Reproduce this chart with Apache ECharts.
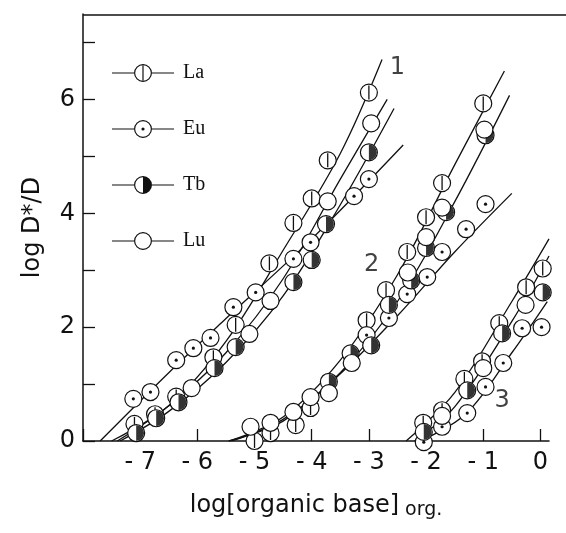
<!DOCTYPE html>
<html>
<head>
<meta charset="utf-8">
<script src="https://cdn.jsdelivr.net/npm/echarts@6/dist/echarts.min.js"></script>
<style>
  html, body { margin: 0; padding: 0; background: #fff; }
  #chart { width: 566px; height: 533px; }
</style>
</head>
<body>
<div id="chart"></div>
<script>
"use strict";

// measured points, [log[base], log D*/D]
var laPoints = [
  [-7.1, 0.3], [-6.74, 0.47], [-6.37, 0.78], [-5.72, 1.47], [-5.33, 2.04], [-4.74, 3.12],
  [-4.32, 3.83], [-4.0, 4.26], [-3.72, 4.93], [-3.0, 6.12],
  [-5.0, 0.0], [-4.72, 0.14], [-4.28, 0.28], [-4.02, 0.58], [-3.04, 2.12], [-2.7, 2.65],
  [-2.33, 3.32], [-2.0, 3.93], [-1.72, 4.53], [-1.0, 5.93],
  [-2.05, 0.32], [-1.72, 0.54], [-1.33, 1.09], [-1.02, 1.4], [-0.72, 2.07], [-0.25, 2.7], [0.04, 3.03]
];
var euPoints = [
  [-7.12, 0.74], [-6.82, 0.86], [-6.37, 1.42], [-6.07, 1.63], [-5.77, 1.81], [-5.37, 2.35],
  [-4.98, 2.61], [-4.32, 3.2], [-4.02, 3.49], [-3.26, 4.3], [-3.0, 4.6],
  [-3.04, 1.86], [-2.65, 2.16], [-2.33, 2.58], [-1.98, 2.88], [-1.72, 3.32], [-1.3, 3.72], [-0.96, 4.16],
  [-2.04, -0.02], [-1.72, 0.25], [-1.28, 0.49], [-0.96, 0.95], [-0.65, 1.37], [-0.32, 1.98], [0.02, 2.0]
];
var tbPoints = [
  [-7.07, 0.14], [-6.72, 0.4], [-6.33, 0.68], [-5.7, 1.28], [-5.33, 1.65], [-4.32, 2.79],
  [-4.0, 3.18], [-3.75, 3.81], [-3.0, 5.07],
  [-3.7, 1.04], [-3.32, 1.54], [-2.96, 1.68], [-2.65, 2.39], [-2.26, 2.82], [-2.0, 3.39],
  [-1.65, 4.02], [-0.96, 5.37],
  [-2.04, 0.16], [-1.28, 0.89], [-0.67, 1.89], [0.04, 2.61]
];
var luPoints = [
  [-6.1, 0.93], [-5.09, 1.88], [-4.72, 2.46], [-3.72, 4.21], [-2.96, 5.58],
  [-5.07, 0.25], [-4.72, 0.32], [-4.32, 0.51], [-4.02, 0.77], [-3.7, 0.84], [-3.3, 1.37],
  [-2.32, 2.96], [-2.0, 3.58], [-1.72, 4.1], [-0.98, 5.47],
  [-1.72, 0.44], [-1.0, 1.28], [-0.26, 2.39]
];

// drawn curves
var curveLa1 = [[-7.5, 0], [-6.5, 0.62], [-5.5, 1.75], [-4.5, 3.35], [-3.5, 5.05], [-2.77, 6.7]];
var curveLu1 = [[-7.4, 0], [-6.5, 0.62], [-5.5, 1.55], [-4.5, 2.85], [-3.5, 4.6], [-2.68, 6.0]];
var curveTb1 = [[-7.35, 0], [-6.5, 0.52], [-5.5, 1.38], [-4.5, 2.55], [-3.5, 4.15], [-2.56, 5.84]];
var curveEu1 = [[-7.7, 0], [-6.5, 1.2], [-5.5, 2.15], [-4.0, 3.55], [-2.4, 5.2]];
var curveLa2 = [[-5.45, 0], [-4.5, 0.42], [-3.5, 1.42], [-2.5, 2.92], [-1.5, 4.85], [-0.63, 6.5]];
var curveTb2 = [[-5.4, 0], [-4.5, 0.38], [-3.5, 1.2], [-2.5, 2.45], [-1.5, 4.2], [-0.54, 6.07]];
var curveEu2 = [[-5.45, 0], [-4.5, 0.35], [-3.5, 1.18], [-2.5, 2.2], [-1.5, 3.32], [-0.5, 4.35]];
var curveLa3 = [[-2.35, 0], [-1.5, 0.85], [-0.5, 2.45], [0.15, 3.55]];
var curveTb3 = [[-2.2, 0], [-1.5, 0.6], [-0.5, 2.1], [0.15, 3.25]];
var curveEu3 = [[-2.1, 0], [-1.3, 0.48], [-0.5, 1.55], [0.12, 2.45]];

var curveTags = ["1", "2", "3"];
var curveTagAt = [[-2.5, 6.55], [-2.95, 3.1], [-0.67, 0.7]];

var elements = ["La", "Eu", "Tb", "Lu"];

var ring = "M22,9 A9,9 0 1 1 40,9 A9,9 0 1 1 22,9 Z M23.2,9 A7.8,7.8 0 1 0 38.8,9 A7.8,7.8 0 1 0 23.2,9 Z";
var dashes = "M0,8.4 H22 V9.6 H0 Z M40,8.4 H62 V9.6 H40 Z";
var legendIcons = {
  La: "path://" + dashes + " " + ring + " M30.4,1.6 H31.6 V16.4 H30.4 Z",
  Eu: "path://" + dashes + " " + ring + " M29.4,9 A1.6,1.6 0 1 1 32.6,9 A1.6,1.6 0 1 1 29.4,9 Z",
  Tb: "path://" + dashes + " " + ring + " M31,1.2 A7.8,7.8 0 0 1 31,16.8 Z",
  Lu: "path://" + dashes + " " + ring
};

function markerSeries(name, points) {
  return {
    name: name,
    type: "custom",
    z: 5,
    itemStyle: { color: "#111" },
    data: points,
    renderItem: function (params, api) {
      var p = api.coord([api.value(0), api.value(1)]);
      var r = 8.5;
      var kids = [{
        type: "circle",
        shape: { cx: p[0], cy: p[1], r: r },
        style: { fill: "#fff", stroke: "#111", lineWidth: 1.2 }
      }];
      if (name === "La") {
        kids.push({
          type: "line",
          shape: { x1: p[0], y1: p[1] - r + 1.5, x2: p[0], y2: p[1] + r - 1.5 },
          style: { stroke: "#111", lineWidth: 1.3 }
        });
      } else if (name === "Eu") {
        kids.push({
          type: "circle",
          shape: { cx: p[0], cy: p[1], r: 1.6 },
          style: { fill: "#111" }
        });
      } else if (name === "Tb") {
        kids.push({
          type: "sector",
          shape: { cx: p[0], cy: p[1], r0: 0, r: r - 0.6, startAngle: -Math.PI / 2, endAngle: Math.PI / 2 },
          style: { fill: "#333" }
        });
      }
      return { type: "group", children: kids };
    }
  };
}

function curveSeries(points) {
  return {
    type: "line",
    data: points,
    smooth: 0.35,
    showSymbol: false,
    silent: true,
    z: 2,
    lineStyle: { color: "#111", width: 1.3 }
  };
}

var chart = echarts.init(document.getElementById("chart"));

var series = [
  curveSeries(curveLa1), curveSeries(curveLu1), curveSeries(curveTb1), curveSeries(curveEu1),
  curveSeries(curveLa2), curveSeries(curveTb2), curveSeries(curveEu2),
  curveSeries(curveLa3), curveSeries(curveTb3), curveSeries(curveEu3),
  markerSeries("La", laPoints),
  markerSeries("Eu", euPoints),
  markerSeries("Tb", tbPoints),
  markerSeries("Lu", luPoints),
  {
    type: "scatter",
    symbolSize: 0,
    silent: true,
    data: curveTagAt,
    label: {
      show: true,
      position: "inside",
      color: "#111",
      fontSize: 24,
      fontFamily: "DejaVu Sans",
      formatter: function (p) { return curveTags[p.dataIndex]; }
    }
  }
];

chart.setOption({
  animation: false,
  backgroundColor: "#fff",
  grid: { left: 83, top: 14, right: 17, bottom: 92 },
  // top frame line of the scanned plot, runs off the right edge
  graphic: [{
    type: "line",
    shape: { x1: 83, y1: 15, x2: 566, y2: 15 },
    style: { stroke: "#111", lineWidth: 1.5 }
  }],
  legend: {
    orient: "vertical",
    left: 107,
    top: 58,
    itemWidth: 62,
    itemHeight: 18,
    itemGap: 36,
    itemStyle: { color: "#111", borderWidth: 0 },
    textStyle: { fontFamily: "Liberation Serif", fontSize: 20, color: "#111", padding: [6, 0, 0, 4] },
    data: elements.map(function (n) { return { name: n, icon: legendIcons[n] }; })
  },
  xAxis: {
    type: "value",
    min: -8,
    max: 0.15,
    interval: 1,
    name: "{m|log[organic base]}{s| org.}",
    nameLocation: "middle",
    nameGap: 50,
    nameTextStyle: {
      rich: {
        m: { fontFamily: "DejaVu Sans", fontSize: 24, color: "#111" },
        s: { fontFamily: "DejaVu Sans", fontSize: 19, color: "#111", padding: [10, 0, 0, 0] }
      }
    },
    axisLine: { onZero: false, lineStyle: { color: "#111", width: 1.5 } },
    axisTick: { inside: true, length: 12, lineStyle: { color: "#111", width: 1.3 } },
    splitLine: { show: false },
    axisLabel: {
      fontFamily: "DejaVu Sans",
      fontSize: 24,
      color: "#111",
      margin: 10,
      showMaxLabel: false,
      formatter: function (v) {
        if (v <= -8 || v > 0.01) return "";
        return v < 0 ? "- " + Math.abs(v) : String(v);
      }
    }
  },
  yAxis: {
    type: "value",
    min: 0,
    max: 7.5,
    interval: 1,
    name: "log D*/D",
    nameLocation: "middle",
    nameRotate: 90,
    nameGap: 38,
    nameTextStyle: { fontFamily: "DejaVu Sans", fontSize: 24, color: "#111" },
    axisLine: { show: true, onZero: false, lineStyle: { color: "#111", width: 1.5 } },
    axisTick: { inside: true, length: 12, lineStyle: { color: "#111", width: 1.3 } },
    splitLine: { show: false },
    axisLabel: {
      fontFamily: "DejaVu Sans",
      fontSize: 24,
      color: "#111",
      margin: 8,
      showMaxLabel: false,
      formatter: function (v) { return v % 2 === 0 ? String(v) : ""; }
    }
  },
  series: series
});
</script>
</body>
</html>
